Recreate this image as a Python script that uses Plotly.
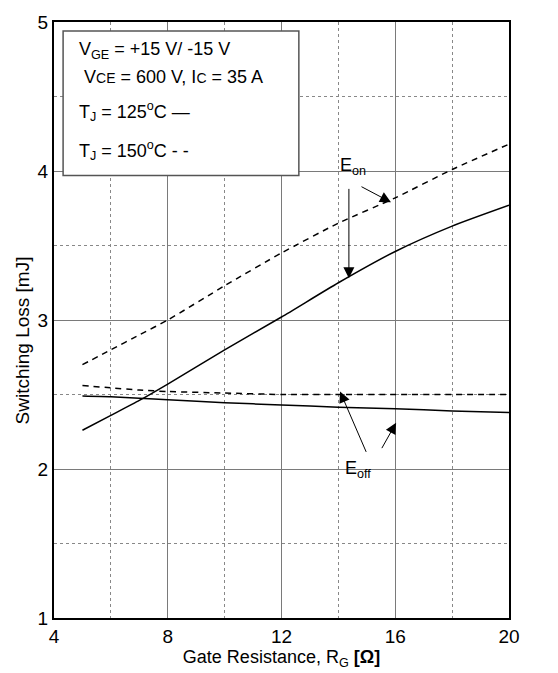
import plotly.graph_objects as go

# Gate resistance [ohm]
rg = [5, 6, 7, 8, 10, 12, 14, 16, 18, 20]

# Switching losses [mJ]
eon_125 = [2.26, 2.36, 2.46, 2.57, 2.80, 3.02, 3.25, 3.46, 3.63, 3.77]
eon_150 = [2.70, 2.80, 2.90, 3.00, 3.23, 3.45, 3.65, 3.82, 4.01, 4.18]
eoff_125 = [2.49, 2.485, 2.475, 2.465, 2.445, 2.43, 2.415, 2.405, 2.39, 2.38]
eoff_150 = [2.56, 2.545, 2.53, 2.52, 2.51, 2.50, 2.50, 2.50, 2.50, 2.50]

x_ticks = [4, 8, 12, 16, 20]
y_ticks = [1, 2, 3, 4, 5]

FONT = "Liberation Sans, Arial, sans-serif"

fig = go.Figure()

series = [
    (eon_125, "solid"),
    (eon_150, "6px,5px"),
    (eoff_125, "solid"),
    (eoff_150, "6px,5px"),
]
for ys, dash in series:
    fig.add_trace(go.Scatter(
        x=rg, y=ys, mode="lines",
        line=dict(color="black", width=1.5, dash=dash, shape="spline", smoothing=0.6),
        showlegend=False, hoverinfo="skip",
    ))

# Condition box
fig.add_shape(type="rect", xref="x", yref="y", x0=4.32, x1=12.61, y0=3.97, y1=4.94,
              line=dict(color="#555", width=1.5), fillcolor="white", layer="above")

box_lines = [
    ("V<sub>GE</sub> = +15 V/ -15 V", 4.82, 4.81),
    ("V<span style='font-size:14px'>CE</span> = 600 V, I<span style='font-size:14px'>C</span> = 35 A", 5.0, 4.63),
    ("T<sub>J</sub> = 125<sup>o</sup>C \u2014", 4.82, 4.40),
    ("T<sub>J</sub> = 150<sup>o</sup>C - -", 4.82, 4.14),
]
for txt, x, y in box_lines:
    fig.add_annotation(x=x, y=y, xref="x", yref="y", text=txt, showarrow=False,
                       xanchor="left", yanchor="middle",
                       font=dict(family=FONT, size=18, color="black"))

# Curve labels
fig.add_annotation(x=14.5, y=4.03, xref="x", yref="y", text="E<sub>on</sub>",
                   showarrow=False, font=dict(family=FONT, size=18, color="black"))
fig.add_annotation(x=14.7, y=2.0, xref="x", yref="y", text="E<sub>off</sub>",
                   showarrow=False, font=dict(family=FONT, size=18, color="black"))

arrows = [
    (14.37, 3.28, 14.37, 3.89),
    (15.85, 3.79, 14.76, 3.90),
    (14.06, 2.52, 15.0, 2.105),
    (16.03, 2.31, 15.5, 2.13),
]
for x, y, ax, ay in arrows:
    fig.add_annotation(x=x, y=y, ax=ax, ay=ay, xref="x", yref="y", axref="x", ayref="y",
                       text="", showarrow=True, arrowhead=2, arrowsize=2.2,
                       arrowwidth=1, arrowcolor="black")

# Y-axis title, placed slightly below the plot's mid-height
fig.add_annotation(x=-0.07, y=0.466, xref="paper", yref="paper", text="Switching Loss [mJ]",
                   textangle=-90, showarrow=False, xanchor="center", yanchor="middle",
                   font=dict(family=FONT, size=19, color="black"))

axis_common = dict(
    showline=True, mirror=True, linecolor="black", linewidth=2,
    showgrid=True, gridcolor="#7a7a7a", gridwidth=1.3,
    ticks="", zeroline=False,
    tickfont=dict(family=FONT, size=19, color="black"),
)

fig.update_xaxes(
    range=[4, 20], tickvals=x_ticks,
    minor=dict(dtick=2, tick0=4, showgrid=True, griddash="dot", gridcolor="#888", gridwidth=1),
    title=dict(text="Gate Resistance, R<sub>G</sub> <b>[\u03a9]</b>",
               font=dict(family=FONT, size=18, color="black"), standoff=2),
    **axis_common,
)
fig.update_yaxes(
    range=[1, 5], tickvals=y_ticks,
    minor=dict(dtick=0.5, tick0=1, showgrid=True, griddash="dot", gridcolor="#888", gridwidth=1),
    **axis_common,
)

fig.update_layout(
    width=558, height=673,
    margin=dict(l=54, r=49, t=15, b=49),
    paper_bgcolor="white", plot_bgcolor="white",
    font=dict(family=FONT, color="black"),
)

fig.write_html("out.html")
